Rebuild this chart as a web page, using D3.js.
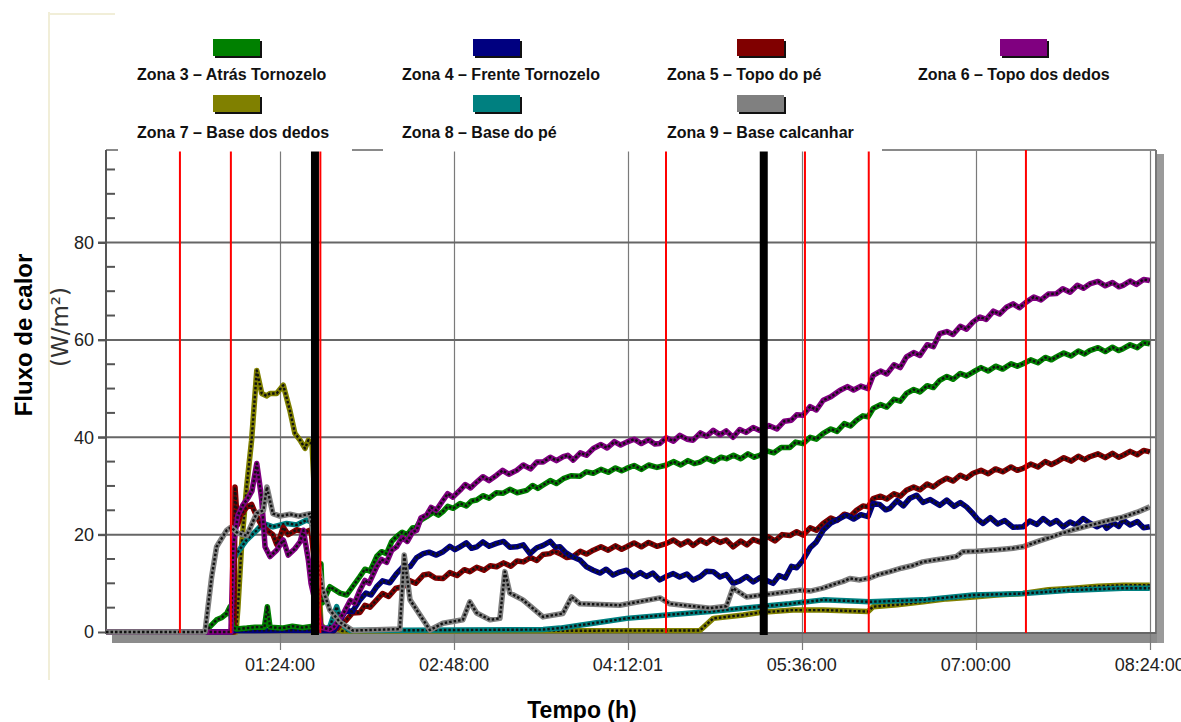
<!DOCTYPE html>
<html>
<head>
<meta charset="utf-8">
<script src="https://cdn.jsdelivr.net/npm/d3@7"></script>
<style>
  body { margin: 0; background: #fff; }
  text { font-family: "Liberation Sans", Arial, sans-serif; }
</style>
</head>
<body>
<div id="chart"></div>
<script>
// series: [minutes, W/m2]
var zona3 = [[0,0],[47.8,0],[50.2,1.1],[53.4,2.5],[56,3],[58.3,3.8],[59.9,5.2],[61,1],[63,0.6],[68,0.8],[72,1],[76.5,1],[77.9,5.2],[79.2,1],[85,0.8],[90,1.2],[95,0.9],[100,1.2],[102.5,1],[103.8,14],[104.5,6],[108.1,9.3],[113,8],[116.2,7.6],[122.6,11.4],
  [125,12.9],[127.5,12.5],[130.7,15.5],[133,16.5],[135.5,16.1],[138,18.6],[140.3,19.6],[143,20.5],[145.5,20],[148,21.4],[150,21.6],[152,23],[154.8,23.7],[158,24.6],[160.5,24],[162.8,24.8],[165,25.8],[167.7,25.4],[171,26.4],[174,25.9],[176.5,26.9],[179,27.1],[182,28],[185,27.5],[188.5,28.6],[191.8,28.5],[195,29.3],[198.5,28.6],[203.1,29.1],[206,30.1],[208.5,29.5],[211.1,30.2],[214.5,31.1],[217.5,30.5],[220.8,31.5],[224.5,32.1],[228.8,32],[232,32.9],[235.3,32.6],[239,33.4],[242.5,32.8],[246,33.7],[249,33.1],[251.4,33.6],[255,34.2],[258.5,33.4],[262,34.3],[266,33.8],[270.7,34.3],[274,35],[277.5,34.3],[281,35.2],[284,34.6],[286.8,34.9],[290,35.7],[293.5,35],[297,35.9],[299.6,35.6],[303,36.3],[306.5,35.6],[310,36.6],[313,35.9],[315.7,36.3],[319,37.2],[322.5,36.8],[326,37.9],[330.2,37.9],[333,39],[336.6,38.7],[340,40],[343,39.6],[346.3,40.8],[350,41.7],[353,41.2],[356.5,42.8],[359.5,42.3],[362.4,43.5],[365.5,44.4],[368,44.2],[370.4,45.9],[374,46.7],[377,46.2],[380.5,47.8],[383.5,47.4],[386.5,49],[390,49.8],[393,49.3],[396.5,50.6],[399.5,50.2],[402.6,51.7],[406,52.5],[409,51.9],[412.5,53.1],[415.5,52.6],[418.7,53.4],[422.5,54.3],[426,53.6],[429.5,54.6],[433,54],[437,55.1],[440,54.6],[442.8,55.1],[446.5,55.9],[450,55.3],[453.5,56.4],[456.5,55.9],[458.9,56.5],[462.5,57.3],[466,56.7],[469.5,57.7],[472.5,57.1],[475,57.8],[479,58.4],[482.5,57.6],[486,58.5],[489,57.8],[491.1,58.2],[494.5,59],[498,58.4],[501,59.4],[504,59.2]];
var zona4 = [[0,0],[60.3,0],[61,0.3],[100,0.4],[103.8,0.3],[110,0.3],[113,2.5],
  [116,4.5],[119,4.2],[122.6,6.6],[125.5,8],[128,7.6],[130.7,9.3],[133.5,10.5],[137,10.1],[140.3,12],[143.5,13.4],[146.8,13.4],[150,15.3],[153.2,16.1],[156,16.4],[159.5,15.8],[162.8,16.5],[166,17.6],[168.5,16.9],[170.9,17.5],[174,18.3],[176.5,17.2],[179,17.5],[182,18.5],[185,17.6],[188.6,18.2],[192,18.6],[195,17.4],[198.3,17.5],[201.5,17.9],[204.7,16.1],[208,17.3],[211.1,17.8],[214.5,18.6],[217,17.4],[219.2,17.5],[222,16.3],[225,15.5],[228.8,14.8],[232,13.4],[235.3,12.7],[238.5,12.1],[241.5,12.9],[244.9,11.7],[248,12.3],[251.4,12.7],[254.5,11.3],[258,12.2],[261,11.4],[264,12.1],[267.4,10.7],[270.5,11.4],[273.9,12],[277,11.3],[280.5,11.9],[283.5,10.7],[287,11.4],[290,12.5],[293.2,12.4],[296.5,11.3],[299.5,11.8],[302.8,10],[306,10.5],[309.3,11.4],[312.5,10.3],[316,11.2],[319,10.6],[322.1,10],[325,11.6],[328,11.1],[331,13.5],[333.5,13.2],[336.6,14.8],[340,17.3],[343,18.5],[346.3,20.9],[350,22.4],[354.3,23.3],[357.5,24],[361,23.2],[364.5,24.1],[368,23.7],[370.4,26.4],[373.5,26.2],[376.5,25.1],[378.5,25.4],[382,27],[385,25.9],[388,27.4],[391.4,28.1],[394.5,26.6],[398,27.2],[402.6,26],[406,27.1],[409.5,25.8],[412.5,26.6],[415.5,25.7],[418.5,24.4],[421,23.1],[423.5,22.3],[427,23.5],[430.5,22.2],[434,22.9],[438,21.5],[442.8,21.6],[446,22.8],[449.5,22.1],[452.5,23.3],[456,22.2],[459,22.9],[462.2,21.6],[465.5,22.6],[468.5,22],[471.8,23.3],[475,22.4],[478.5,21.6],[481.5,22.3],[483.1,21.3],[486.5,22.4],[489,21.7],[491.1,23],[494.5,22],[498,22.7],[501,21.4],[504,21.6]];
var zona5 = [[0,0],[61.8,0],[62.3,29.8],[63.5,22],[65,24],[67.9,25.6],[70.3,26.2],[72.5,24],[75,22],[77.5,21],[80.6,20],[82.4,18],[84,19.5],[85.6,21.5],[88,20],[92,21],[96,20.5],[99,21],[103.8,0.5],[110,0.3],[116.2,2.5],
  [119,3.9],[122.6,4],[125,5.5],[127.5,5.1],[130.7,6.6],[133.5,7.9],[136.5,7.3],[140,9],[143.5,9.3],[146.5,10.6],[149.5,10],[153.2,11.7],[156,11.9],[159,11.1],[162.8,11],[166,12.2],[169.5,11.6],[173,12.8],[175.7,12.4],[179,13.3],[182.5,12.7],[185.5,13.6],[188.6,13.4],[192,14.2],[195.5,13.5],[198.5,14.6],[201.5,14.4],[205,15.3],[208,14.7],[211,15.9],[214.3,16.1],[216.5,16.6],[219.2,16.1],[222.5,15.3],[225.6,15.5],[229,16.6],[232,16],[235.3,16.8],[239,17.5],[242.5,16.8],[246,17.7],[249,17],[251.4,17.5],[255,18.3],[258.5,17.5],[262,18.4],[266,17.6],[270.7,18.2],[274,18.9],[277.5,17.9],[281,18.7],[283.5,17.8],[287,18.9],[290,18.2],[293.2,19.2],[296.5,18.4],[299.5,18.9],[302.8,17.5],[306.5,18.7],[309.5,17.9],[312.5,19],[315.7,18.5],[319.5,19.6],[323,18.7],[326.5,20],[330.2,19.8],[333.5,20.6],[336.6,19.9],[340,21.4],[343,20.9],[346.3,22.3],[350,23.4],[353,22.9],[356.5,24.2],[359.5,23.8],[362.4,25],[365.5,25.9],[368,25.7],[370.4,27.4],[374,27.9],[377,27.3],[380.5,28.4],[383.5,27.9],[386.5,29.1],[390,29.8],[393,29.2],[396.5,30.4],[399.5,29.8],[402.6,30.8],[406,31.6],[409,31],[412.5,32.2],[415.5,31.6],[418.7,32.6],[422.5,33.2],[426,32.5],[429.5,33.5],[433,32.9],[437,33.9],[440,33.2],[442.8,33.6],[446.5,34.5],[450,33.9],[453.5,35],[456.5,34.4],[458.9,34.9],[462.5,35.8],[466,35.1],[469.5,36.1],[472.5,35.4],[475,36],[479,36.6],[482.5,35.8],[486,36.7],[489,35.9],[491.1,36.3],[494.5,37.1],[498,36.4],[501,37.3],[504,37]];
var zona6 = [[0,0],[60.3,0],[61.5,18],[63.7,24],[66,26],[68.5,27.5],[70.5,29],[72.8,34.6],[74,31],[75.2,27.1],[76.8,17.5],[79.2,15.5],[82.4,16.8],[85.6,18.9],[88,15.8],[91.2,17.1],[93.7,18.5],[95.3,20.9],[97.7,14.8],[99,10],[103.8,1],[108,0.5],[110,1],[114.6,3.8],
  [118,6.5],[120,5.9],[122.6,8.6],[125,10.6],[127,10],[130.7,13.4],[133,14.9],[135.5,14.3],[138,16.8],[140.3,17.5],[143,19.4],[145.5,18.6],[148,20.5],[150,20.9],[152,23.4],[154.8,24],[157,25.6],[159.5,25],[162.8,27.1],[165,28.4],[167.5,27.7],[170.9,29.1],[173.5,30.3],[176,29.6],[179,30.8],[182,31.9],[185,31.1],[188.6,32.2],[191.5,33.2],[194.5,32.4],[198.3,33.2],[201.5,34.3],[205,33.5],[208,34.9],[211.1,34.9],[214.5,35.9],[217.5,35.2],[220.8,36],[223,36.3],[225.6,35.3],[229,36.8],[232,36.3],[235.3,37.7],[239,38.5],[242,37.8],[245.5,39.1],[248.5,38.4],[251.4,39],[255,39.6],[258.5,38.7],[262,39.5],[265,38.6],[267.4,38.7],[270.5,39.9],[274,39.2],[277.1,40.4],[280.5,39.6],[283.5,39.4],[287,40.9],[290,40.2],[293.2,41.4],[296.5,40.5],[299.5,41.3],[302.8,40],[306,41.6],[309,41],[312.5,42],[315.7,41.4],[320,42.4],[324,41.7],[327.5,43.3],[331,43.5],[333.5,44.6],[336.6,44.5],[340,46.3],[343,45.6],[346.3,47.6],[350,48.3],[354.3,49.6],[358,50.4],[361,49.7],[364.5,50.5],[368,50],[370.4,52.7],[374,53.6],[377,53],[380.5,54.9],[383.5,54.3],[386.5,56.5],[390,57.4],[393,56.8],[396.5,59],[399.5,58.6],[402.6,61.3],[406,61.7],[409,61.1],[412.5,62.8],[415.5,62.2],[418.7,63.7],[422,64.7],[425,64.2],[428.5,65.9],[431.5,65.3],[434.8,66.7],[438,67.4],[441,66.6],[444.5,67.8],[448,68.8],[451.5,68.2],[455,69.4],[458.9,69.5],[462,70.5],[465.5,69.8],[469,71.2],[472,70.6],[475,71.5],[479,72],[482.5,71.1],[486,71.8],[489,70.9],[491.1,71.2],[494.5,72.1],[497.5,71.4],[501,72.4],[504,72.2]];
var zona7 = [[0,0],[62.8,0],[63.7,5],[65.5,18],[67.9,29.8],[70.3,39.4],[72.8,53.7],[75.2,49],[77.5,48.5],[79.2,49],[82.4,49],[85.6,50.7],[88.8,45.5],[91.2,40.8],[93.7,39.4],[96.1,37.7],[97.7,39.4],[99.5,38.5],[103.8,1.5],[106,0.5],[110,1],[114,0.2],[286.8,0.3],[293.2,2.8],[307.7,3.5],[315.7,4],[331.8,4.5],[346.3,4.5],[368,4.2],[370.4,5.2],[382,5.6],[394.6,6.2],[406,6.8],[418.7,7.2],[430,7.6],[442.8,7.9],[455,8.7],[467,9],[479,9.4],[491.1,9.6],[504,9.6]];
var zona8 = [[0,0],[61,0],[61.5,14.8],[63.1,16.1],[67.9,18.9],[72.8,20.9],[75.9,22.3],[80.6,21.6],[87.2,22.3],[92,22],[96.9,23],[99.5,22.5],[103.8,0.5],[108,1],[111.4,5.2],[114,1.5],[118,0.3],[211.1,0.5],[219.2,0.8],[235.3,1.8],[251.4,2.8],[270.7,3.5],[291.6,4.2],[307.7,4.9],[330.2,5.8],[346.3,6.6],[368.8,6.2],[394.6,6.6],[418.7,7.6],[442.8,7.9],[467,8.6],[491.1,9],[504,9]];
var zona9 = [[0,0],[47.8,0],[51,11.3],[53.4,17.5],[58.3,20.9],[60.3,21.5],[63.7,20.3],[67.9,19.8],[72.8,24.4],[76,25],[77.7,29.8],[80.6,24.3],[84,23.8],[88.8,24.2],[93,23.8],[98.5,24.3],[104.5,9],[108.1,4.5],[113,2],[119.2,0.3],[141.9,0.6],[144,15.8],[146.8,6.6],[156.4,0.4],[162.7,1.8],[172.3,2.5],[175.7,6.2],[179,3.9],[185.4,2.5],[190.2,2.8],[192.6,12.4],[195,8],[201.3,6.6],[211,3.1],[220.6,3.8],[224.8,7.2],[228.8,5.8],[248.1,5.5],[267.5,7],[272.3,5.8],[291.6,4.9],[299.6,5.3],[302.7,9],[309.3,7.2],
  [330.2,8.3],[335,8.6],[340,8.4],[346.1,9],[352,9.9],[356,10.4],[359.2,11],[364,10.7],[368.8,11.1],[373,11.8],[378.5,12.4],[384,13.1],[389,13.6],[394.4,14.4],[400,14.8],[405,15.1],[410.7,15.5],[413.7,16.5],[420,16.6],[426.8,16.8],[433,17],[438,17.2],[442.7,17.5],[450,18.6],[459,19.9],[467,21],[475,21.9],[483,22.8],[491,23.6],[498,24.6],[504,25.7]];

var seriesNames = ["Zona 3 – Atrás Tornozelo", "Zona 4 – Frente Tornozelo", "Zona 5 – Topo do pé", "Zona 6 – Topo dos dedos",
                   "Zona 7 – Base dos dedos", "Zona 8 – Base do pé", "Zona 9 – Base calcanhar"];
var seriesData = [zona3, zona4, zona5, zona6, zona7, zona8, zona9];

// event markers (minutes)
var redMarks = [35.7, 60.3, 103.5, 270.4, 337.5, 368.3, 444.2];
var blackMarks = [100.9, 317.6];

var xTickValues = [84, 168, 252, 336, 420, 504];
var xTickLabels = ["01:24:00", "02:48:00", "04:12:01", "05:36:00", "07:00:00", "08:24:00"];
var yTickValues = [0, 20, 40, 60, 80];

var colors = ["#008000", "#000080", "#800000", "#800080", "#808000", "#008080", "#808080"];

var svgwidth = 1181;
var svgheight = 722;
// plot box (window.top etc. are reserved, hence the p prefix)
var pLeft = 106, pRight = 1156, pTop = 150, pBottom = 632;

var svg = d3.select("#chart").append("svg")
    .attr("width", svgwidth)
    .attr("height", svgheight);

svg.append("rect").attr("width", svgwidth).attr("height", svgheight).attr("fill", "#fff");

// faint frame of the original picture
svg.append("path")
    .attr("d", "M49,12 V680 M49,14 H115")
    .attr("stroke", "#f1eed8").attr("stroke-width", 2).attr("fill", "none");

var x = d3.scaleLinear().domain([0, 507]).range([pLeft, pRight]);
var y = d3.scaleLinear().domain([0, 99]).range([pBottom, pTop]);

// shadow of the frame
svg.append("rect").attr("x", 112).attr("y", pBottom + 2).attr("width", pRight - 112 + 8).attr("height", 9).attr("fill", "#8c8c8c");
svg.append("rect").attr("x", pRight + 1).attr("y", pTop + 4).attr("width", 7).attr("height", pBottom - pTop + 7).attr("fill", "#9a9a9a");
svg.append("rect").attr("x", pLeft).attr("y", pTop).attr("width", pRight - pLeft).attr("height", pBottom + 2 - pTop).attr("fill", "#fff");

// vertical grid + ticks below axis
svg.append("g")
    .selectAll("line")
    .data(xTickValues)
    .enter().append("line")
    .attr("x1", function(d){ return Math.round(x(d)) + 0.5; })
    .attr("x2", function(d){ return Math.round(x(d)) + 0.5; })
    .attr("y1", pTop).attr("y2", 650)
    .attr("stroke", "#7a7a7a").attr("stroke-width", 1.2);

// horizontal grid
svg.append("g")
    .selectAll("line")
    .data(yTickValues.slice(1))
    .enter().append("line")
    .attr("x1", 98).attr("x2", pRight)
    .attr("y1", function(d){ return y(d); })
    .attr("y2", function(d){ return y(d); })
    .attr("stroke", "#666").attr("stroke-width", 2);

// frame
svg.append("line").attr("x1", pLeft).attr("x2", pRight).attr("y1", pTop).attr("y2", pTop).attr("stroke", "#8a8a8a").attr("stroke-width", 2);
svg.append("line").attr("x1", pRight).attr("x2", pRight).attr("y1", pTop).attr("y2", pBottom + 2).attr("stroke", "#777").attr("stroke-width", 2);
svg.append("line").attr("x1", pLeft).attr("x2", pRight).attr("y1", pBottom + 1).attr("y2", pBottom + 1).attr("stroke", "#666").attr("stroke-width", 2);

// left axis with minor ticks
var leftaxis = d3.axisLeft(y).tickValues(yTickValues).tickSize(8).tickPadding(4).tickFormat(d3.format("d"));
var yaxis = svg.append("g").attr("transform", "translate(" + pLeft + ",0)").call(leftaxis);
yaxis.select(".domain").attr("stroke", "#555").attr("stroke-width", 2).attr("d", "M0," + pTop + "V" + (pBottom + 2));
yaxis.selectAll(".tick line").attr("stroke", "#555").attr("stroke-width", 2);
yaxis.selectAll(".tick text").attr("font-size", 18).attr("fill", "#222").attr("font-family", "Liberation Sans, Arial, sans-serif");

var minor = d3.range(5, 99, 5).filter(function(d){ return d % 20 !== 0; });
svg.append("g").selectAll("line").data(minor).enter().append("line")
    .attr("x1", pLeft).attr("x2", pLeft + 9)
    .attr("y1", function(d){ return y(d); }).attr("y2", function(d){ return y(d); })
    .attr("stroke", "#555").attr("stroke-width", 2);

// x labels
svg.append("g").selectAll("text").data(xTickValues).enter().append("text")
    .attr("x", function(d){ return x(d); })
    .attr("y", 671)
    .attr("text-anchor", "middle")
    .attr("font-size", 18)
    .attr("fill", "#222")
    .text(function(d, i){ return xTickLabels[i]; });

// series: coloured band with dark dotted core
var line = d3.line()
    .x(function(d){ return x(d[0]); })
    .y(function(d){ return y(d[1]); });

var order = [4, 5, 2, 1, 0, 3, 6];
var chart = svg.append("g");
order.forEach(function(i){
    chart.append("path")
        .attr("d", line(seriesData[i]))
        .attr("fill", "none")
        .attr("stroke", colors[i])
        .attr("stroke-width", 5.5)
        .attr("stroke-linejoin", "round");
    chart.append("path")
        .attr("d", line(seriesData[i]))
        .attr("fill", "none")
        .attr("stroke", "#111")
        .attr("stroke-width", 2.4)
        .attr("stroke-dasharray", "2.5,2")
        .attr("stroke-linejoin", "round");
});

// event markers
svg.append("g").selectAll("rect").data(blackMarks).enter().append("rect")
    .attr("x", function(d){ return x(d) - 4; })
    .attr("y", pTop)
    .attr("width", 8)
    .attr("height", pBottom + 3 - pTop)
    .attr("fill", "#000");

svg.append("g").selectAll("line").data(redMarks).enter().append("line")
    .attr("x1", function(d){ return x(d); }).attr("x2", function(d){ return x(d); })
    .attr("y1", pTop).attr("y2", pBottom + 1)
    .attr("stroke", "#ff0000").attr("stroke-width", 2);

// legend
var textX = [137, 402, 667, 918];
var swatchX = [213, 473, 737, 1000];
var legend = svg.append("g");

// white label boxes of the second row hide the frame top
[[118, 352], [383, 648], [648, 882]].forEach(function(b){
    legend.append("rect").attr("x", b[0]).attr("y", 114).attr("width", b[1] - b[0]).attr("height", 37.5).attr("fill", "#fff");
});

seriesNames.forEach(function(name, i){
    var row = i < 4 ? 0 : 1;
    var col = i < 4 ? i : i - 4;
    var sy = row === 0 ? 39 : 95;
    legend.append("rect")
        .attr("x", swatchX[col] + 2).attr("y", sy + 2)
        .attr("width", 47).attr("height", 17)
        .attr("fill", "#111");
    legend.append("rect")
        .attr("x", swatchX[col]).attr("y", sy)
        .attr("width", 47).attr("height", 17)
        .attr("fill", colors[i]);
    legend.append("text")
        .attr("x", textX[col])
        .attr("y", row === 0 ? 80 : 138)
        .attr("font-size", 16)
        .attr("font-weight", "bold")
        .attr("fill", "#111")
        .text(name);
});

// axis titles
svg.append("text")
    .attr("transform", "translate(32,335) rotate(-90)")
    .attr("text-anchor", "middle")
    .attr("font-size", 24)
    .attr("font-weight", "bold")
    .text("Fluxo de calor");

svg.append("text")
    .attr("transform", "translate(68,327) rotate(-90)")
    .attr("text-anchor", "middle")
    .attr("font-size", 23)
    .attr("fill", "#333")
    .style("font-family", "DejaVu Sans, sans-serif")
    .text("(W/m²)");

svg.append("text")
    .attr("x", 582)
    .attr("y", 718)
    .attr("text-anchor", "middle")
    .attr("font-size", 23)
    .attr("font-weight", "bold")
    .text("Tempo (h)");
</script>
</body>
</html>
